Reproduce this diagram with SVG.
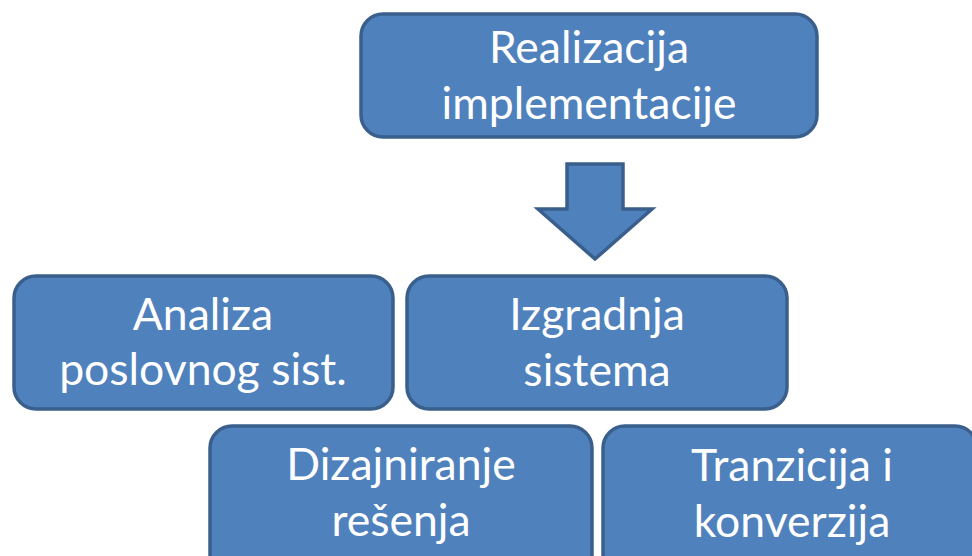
<svg xmlns="http://www.w3.org/2000/svg" width="972" height="556" viewBox="0 0 972 556">
<style>
.box{fill:#4F81BD;stroke:#3A5F8C;stroke-width:3.5}
.t{font-family:Lato,"Open Sans","Liberation Sans",sans-serif;font-size:44.5px;fill:#FFFFFF;text-anchor:middle}
</style>
<rect width="972" height="556" fill="#FFFFFF"/>
<g id="n-realizacija">
<rect class="box" x="361" y="14" width="456" height="123" rx="22"/>
<text class="t" x="589" y="63">Realizacija</text>
<text class="t" x="589" y="119">implementacije</text>
</g>
<g id="connectors">
<path class="box" d="M567,164 L623,164 L623,209 L652,209 L595,259 L538,209 L567,209 Z" stroke-linejoin="miter"/>
</g>
<g id="n-analiza">
<rect class="box" x="14" y="276" width="379" height="133" rx="22"/>
<text class="t" x="203" y="330">Analiza</text>
<text class="t" x="203" y="385">poslovnog sist.</text>
</g>
<g id="n-izgradnja">
<rect class="box" x="407" y="276" width="380" height="133" rx="22"/>
<text class="t" x="597" y="330">Izgradnja</text>
<text class="t" x="597" y="386">sistema</text>
</g>
<g id="n-dizajniranje">
<rect class="box" x="210" y="426" width="382" height="150" rx="22"/>
<text class="t" x="401" y="480">Dizajniranje</text>
<text class="t" x="401" y="536">rešenja</text>
</g>
<g id="n-tranzicija">
<rect class="box" x="603" y="426" width="374" height="150" rx="22"/>
<text class="t" x="792" y="481">Tranzicija i</text>
<text class="t" x="792" y="537">konverzija</text>
</g>
</svg>
